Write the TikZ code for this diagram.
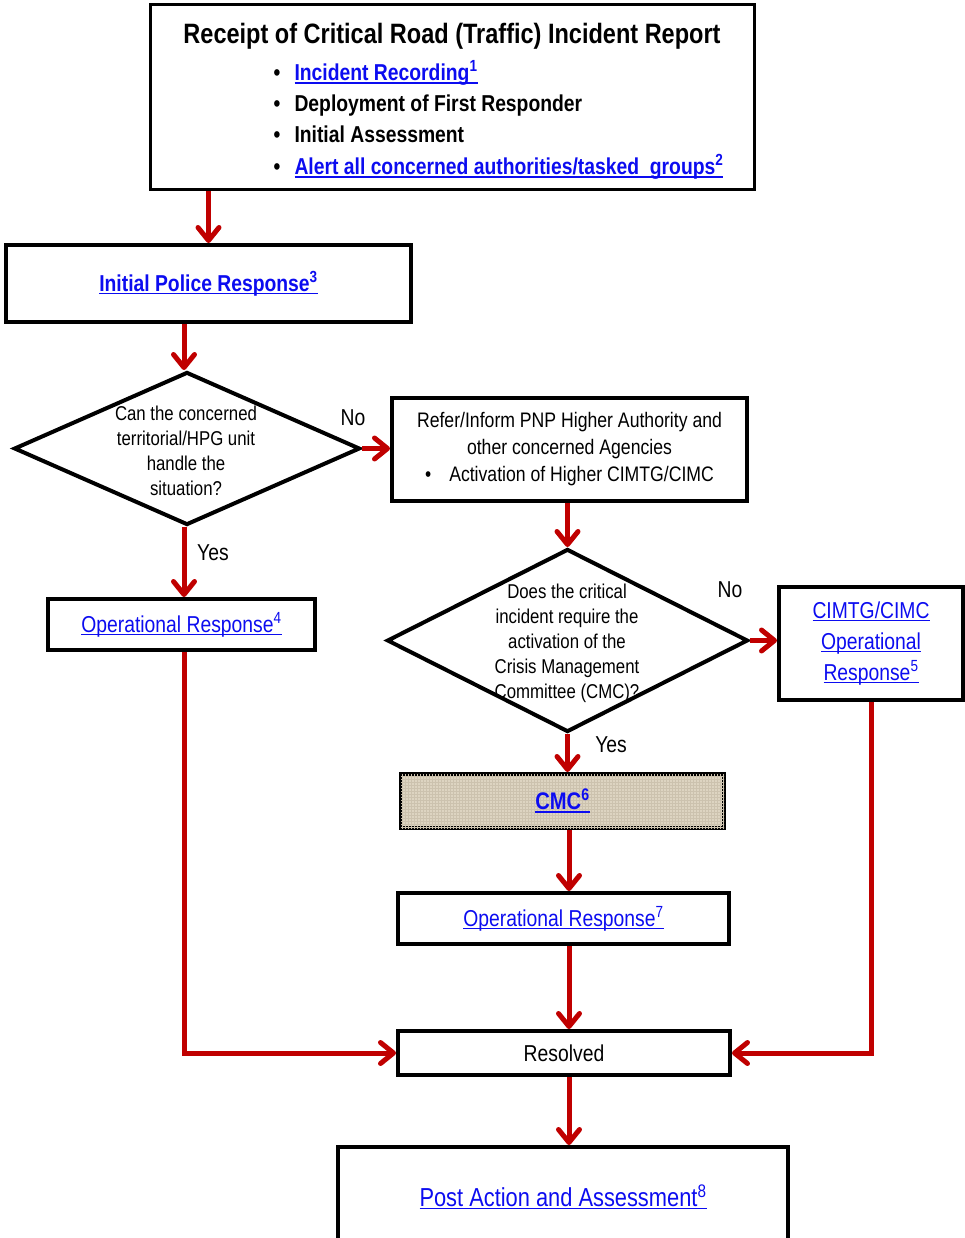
\documentclass[tikz,border=0pt]{standalone}
\usepackage{fontspec}
\setmainfont{Liberation Sans}[FakeStretch=0.84]
\usetikzlibrary{arrows.meta,shapes.geometric,patterns}
\definecolor{flowred}{RGB}{192,0,0}
\definecolor{linkblue}{RGB}{12,12,240}
\definecolor{linen}{RGB}{221,212,193}
\definecolor{linenline}{RGB}{204,194,174}
% underlined hyperlink-style text
\newcommand{\linktext}[1]{\setbox0=\hbox{#1}\rlap{\rule[-3pt]{\wd0}{1.5pt}}\box0}
\begin{document}
\begin{tikzpicture}[x=1pt,y=-1pt,
  box/.style={draw=black,line width=4pt,rectangle,inner sep=0pt,fill=white},
  dec/.style={draw=black,line width=4pt,diamond,inner sep=0pt,fill=white},
  arr/.style={draw=flowred,line width=5pt,-{Straight Barb[length=13pt,width=21pt,round]}},
  lbl/.style={font=\fontsize{23}{26}\selectfont},
  qtext/.style={align=center,font=\fontsize{20}{25}\selectfont},
  link/.style={text=linkblue},
]
\useasboundingbox (0,0) rectangle (964,1238);

% ---- boxes -------------------------------------------------------
\node[box,line width=3pt,minimum width=604pt,minimum height=185pt] (top) at (452,97.5) {};
\node[font=\bfseries\fontsize{28}{30}\selectfont] (title) at (452,36)
  {Receipt of Critical Road (Traffic) Incident Report};
\node[anchor=base west,font=\bfseries\fontsize{23}{26}\selectfont] (b1) at (270,81)
  {\makebox[21pt][l]{\textbullet}{\color{linkblue}\linktext{Incident Recording\textsuperscript{1}}}};
\node[anchor=base west,font=\bfseries\fontsize{23}{26}\selectfont] (b2) at (270,112)
  {\makebox[21pt][l]{\textbullet}Deployment of First Responder};
\node[anchor=base west,font=\bfseries\fontsize{23}{26}\selectfont] (b3) at (270,143)
  {\makebox[21pt][l]{\textbullet}Initial Assessment};
\node[anchor=base west,font=\bfseries\fontsize{23}{26}\selectfont] (b4) at (270,175)
  {\makebox[21pt][l]{\textbullet}{\color{linkblue}\linktext{Alert all concerned authorities/tasked\ \ groups\textsuperscript{2}}}};

\node[box,minimum width=405pt,minimum height=77pt,link,font=\bfseries\fontsize{23}{26}\selectfont]
  (ipr) at (208.5,283.5) {\linktext{Initial Police Response\textsuperscript{3}}};

\node[dec,minimum width=346pt,minimum height=153pt] (d1) at (187,448.5) {};
\node[qtext] (d1q) at (186,450.5)
  {Can the concerned\\territorial/HPG unit\\handle the\\situation?};

\node[box,minimum width=355pt,minimum height=103pt,align=center,font=\fontsize{21}{27}\selectfont]
  (refer) at (569.5,449.5)
  {Refer/Inform PNP Higher Authority and\\other concerned Agencies\\\textbullet\hspace{18pt}Activation of Higher CIMTG/CIMC};

\node[box,minimum width=267pt,minimum height=51pt,link,font=\fontsize{23}{26}\selectfont]
  (op4) at (181.5,624.5) {\linktext{Operational Response\textsuperscript{4}}};

\node[dec,minimum width=361pt,minimum height=183pt] (d2) at (567.5,640.5) {};
\node[qtext] (d2q) at (567,643)
  {Does the critical\\incident require the\\activation of the\\Crisis Management\\Committee (CMC)?};

\node[box,minimum width=184pt,minimum height=113pt,align=center,link,font=\fontsize{23}{31}\selectfont]
  (cimtg) at (871,643.5)
  {\linktext{CIMTG/CIMC}\\\linktext{Operational}\\\linktext{Response\textsuperscript{5}}};

\node[box,fill=linen,postaction={pattern=grid,pattern color=linenline},
  minimum width=323pt,minimum height=54pt] (cmc) at (562.5,801) {};
\node[link,font=\bfseries\fontsize{24}{26}\selectfont] (cmcq) at (cmc.center)
  {\linktext{CMC\textsuperscript{6}}};

\node[box,minimum width=331pt,minimum height=51pt,link,font=\fontsize{23}{26}\selectfont]
  (op7) at (563.5,918.5) {\linktext{Operational Response\textsuperscript{7}}};

\node[box,minimum width=332pt,minimum height=44pt,font=\fontsize{23}{26}\selectfont]
  (resolved) at (564,1053) {Resolved};

\node[box,minimum width=450pt,minimum height=100pt,link,font=\fontsize{26}{28}\selectfont]
  (post) at (563,1197) {\linktext{Post Action and\ Assessment\textsuperscript{8}}};

% ---- branch labels -----------------------------------------------
\node[lbl] (no1) at (353,418) {No};
\node[lbl] (yes1) at (213,553) {Yes};
\node[lbl] (no2) at (730,590) {No};
\node[lbl] (yes2) at (611,745) {Yes};

% ---- connectors --------------------------------------------------
\coordinate (spine) at (569,0);
\coordinate (leftrail) at (184,0);
\draw[arr] (top.south -| ipr.north) -- (ipr.north);
\draw[arr] (ipr.south -| leftrail) -- (d1.north -| leftrail);
\draw[arr] (d1.east) -- (refer.west |- d1.east);
\draw[arr] (d1.south -| leftrail) -- (op4.north -| leftrail);
\draw[arr] (refer.south -| d2.north) -- (d2.north);
\draw[arr] (d2.east) -- (cimtg.west |- d2.east);
\draw[arr] (d2.south) -- (cmc.north -| d2.south);
\draw[arr] (cmc.south -| spine) -- (op7.north -| spine);
\draw[arr] (op7.south -| spine) -- (resolved.north -| spine);
\draw[arr] (op4.south -| leftrail) |- (resolved.west);
\draw[arr] (cimtg.south) |- (resolved.east);
\draw[arr] (resolved.south -| spine) -- (post.north -| spine);
\end{tikzpicture}
\end{document}
